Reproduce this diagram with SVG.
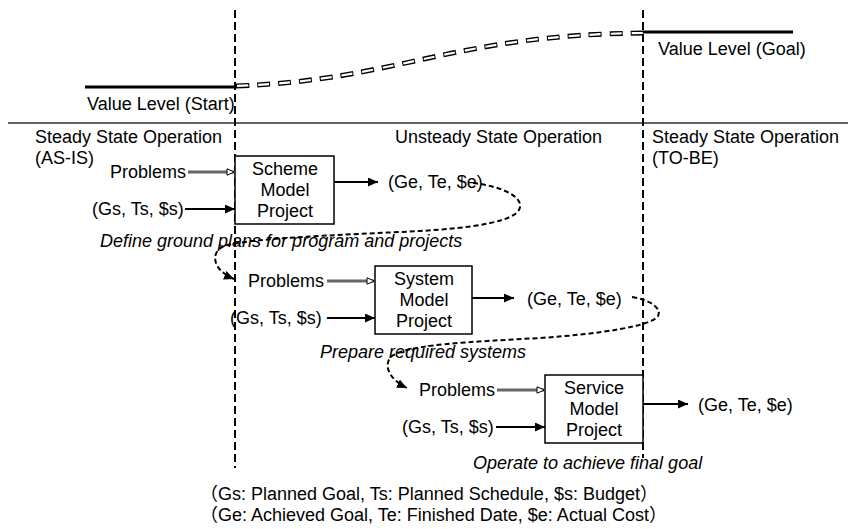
<svg xmlns="http://www.w3.org/2000/svg" width="848" height="529" viewBox="0 0 848 529">
<style>
text{font-family:"Liberation Sans",Arial,"Noto Sans CJK JP",sans-serif;font-size:18px;fill:#000}
.it{font-style:italic}
.mid{text-anchor:middle}
.box{fill:#fff;stroke:#000;stroke-width:1.5}
.vdash{stroke:#000;stroke-width:2;stroke-dasharray:8 4;fill:none}
.lvl{stroke:#000;stroke-width:3}
.arr{stroke:#000;stroke-width:2;fill:none;marker-end:url(#fa)}
.prob{stroke:#666;stroke-width:3;fill:none;marker-end:url(#ha)}
.flow{stroke:#000;stroke-width:2;stroke-dasharray:5 3;fill:none;marker-end:url(#fa)}
.vb{fill:none;stroke:#000;stroke-width:5;stroke-dasharray:13 8}
.vw{fill:none;stroke:#fff;stroke-width:2.2;stroke-dasharray:11 10;stroke-dashoffset:-1}
</style>
<defs>
<marker id="fa" markerUnits="userSpaceOnUse" markerWidth="11" markerHeight="9" refX="10" refY="4.5" orient="auto">
<path d="M0,0 L10,4.5 L0,9 z" fill="#000"/>
</marker>
<marker id="ha" markerUnits="userSpaceOnUse" markerWidth="10" markerHeight="9" refX="9" refY="4" orient="auto">
<path d="M1,0.8 L8.5,4 L1,7.2 z" fill="#fff" stroke="#000" stroke-width="1"/>
</marker>
</defs>

<g id="frame">
<line x1="8" y1="123" x2="848" y2="123" stroke="#333" stroke-width="1.5"/>
<line class="vdash" x1="235" y1="10" x2="235" y2="468"/>
<line class="vdash" x1="643" y1="10" x2="643" y2="458"/>
</g>

<g id="value-levels">
<line class="lvl" x1="85" y1="87" x2="235" y2="87"/>
<text x="87" y="110">Value Level (Start)</text>
<line class="lvl" x1="643" y1="32" x2="793" y2="32"/>
<text x="658" y="55">Value Level (Goal)</text>
<path class="vb" d="M236,86 C400,80 450,35 643,33"/>
<path class="vw" d="M236,86 C400,80 450,35 643,33"/>
</g>

<g id="phase-labels">
<text x="35" y="143">Steady State Operation</text>
<text x="35" y="164">(AS-IS)</text>
<text x="395" y="143">Unsteady State Operation</text>
<text x="652" y="143">Steady State Operation</text>
<text x="652" y="164">(TO-BE)</text>
</g>

<g id="scheme">
<rect class="box" x="235" y="156" width="99" height="68"/>
<text class="mid" x="285" y="175">Scheme</text>
<text class="mid" x="285" y="196">Model</text>
<text class="mid" x="285" y="217">Project</text>
</g>
<g id="scheme-inputs">
<text x="110" y="178">Problems</text>
<text x="92" y="215">(Gs, Ts, $s)</text>
<text x="388" y="188">(Ge, Te, $e)</text>
<text class="it" x="100" y="247">Define ground plans for program and projects</text>
</g>

<g id="system">
<rect class="box" x="375" y="266" width="97" height="68"/>
<text class="mid" x="424" y="285">System</text>
<text class="mid" x="424" y="306">Model</text>
<text class="mid" x="424" y="327">Project</text>
</g>
<g id="system-inputs">
<text x="248" y="287">Problems</text>
<text x="230" y="324">(Gs, Ts, $s)</text>
<text x="527" y="305">(Ge, Te, $e)</text>
<text class="it" x="320" y="358">Prepare required systems</text>
</g>

<g id="service">
<rect class="box" x="545" y="375" width="98" height="68"/>
<text class="mid" x="594" y="394">Service</text>
<text class="mid" x="594" y="415">Model</text>
<text class="mid" x="594" y="436">Project</text>
</g>
<g id="service-inputs">
<text x="419" y="396">Problems</text>
<text x="402" y="433">(Gs, Ts, $s)</text>
<text x="698" y="411">(Ge, Te, $e)</text>
<text class="it" x="473" y="469">Operate to achieve final goal</text>
</g>

<g id="connectors">
<line class="prob" x1="188" y1="172" x2="235" y2="172"/>
<line class="arr" x1="185" y1="209" x2="235" y2="209"/>
<line class="arr" x1="334" y1="182" x2="378" y2="182"/>
<path class="flow" d="M473,183 C500,186 522,196 520,207 C518,222 470,228 420,231 C340,235 250,238 224,246 C210,252 212,270 234,279"/>

<line class="prob" x1="327" y1="281" x2="375" y2="281"/>
<line class="arr" x1="327" y1="318" x2="375" y2="318"/>
<line class="arr" x1="472" y1="298" x2="514" y2="298"/>
<path class="flow" d="M632,297 C650,300 662,308 658,316 C652,326 600,334 540,338 C470,342 410,344 392,356 C382,365 390,380 407,388"/>

<line class="prob" x1="497" y1="390" x2="545" y2="390"/>
<line class="arr" x1="496" y1="427" x2="545" y2="427"/>
<line class="arr" x1="643" y1="404" x2="688" y2="404"/>
</g>

<g id="legend">
<text x="200" y="500">（Gs: Planned Goal, Ts: Planned Schedule, $s: Budget）</text>
<text x="200" y="521">（Ge: Achieved Goal, Te: Finished Date, $e: Actual Cost）</text>
</g>
</svg>
